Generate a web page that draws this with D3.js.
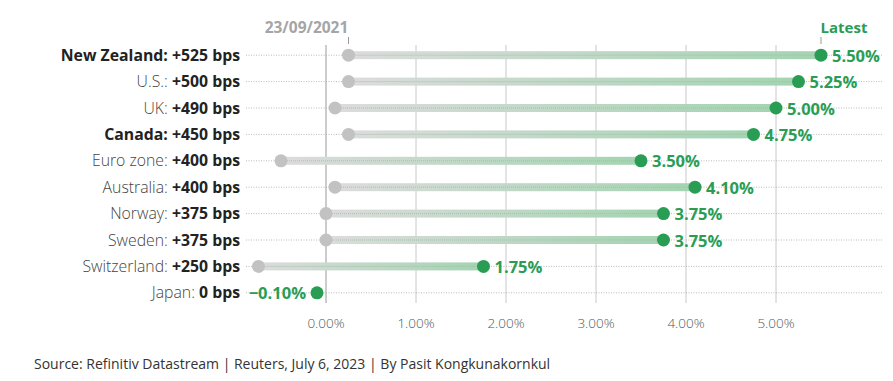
<!DOCTYPE html>
<html>
<head>
<meta charset="utf-8">
<script src="https://cdn.jsdelivr.net/npm/d3@7"></script>
<style>
  body { margin: 0; background: #fff; }
  svg { font-family: "Open Sans", Lato, sans-serif; }
</style>
</head>
<body>
<script>
const countries = ["New Zealand", "U.S.", "UK", "Canada", "Euro zone", "Australia", "Norway", "Sweden", "Switzerland", "Japan"];
const startRates = [0.25, 0.25, 0.10, 0.25, -0.50, 0.10, 0.00, 0.00, -0.75, -0.10];
const latestRates = [5.50, 5.25, 5.00, 4.75, 3.50, 4.10, 3.75, 3.75, 1.75, -0.10];
const changeBps = [525, 500, 490, 450, 400, 400, 375, 375, 250, 0];
const boldNames = ["New Zealand", "Canada"];
const xTicks = [0, 1, 2, 3, 4, 5];

const width = 893, height = 381;
const green = "#2a9d55", grey = "#c2c2c2";

const svg = d3.select("body").append("svg")
    .attr("width", width)
    .attr("height", height);

const x = d3.scaleLinear().domain([0, 5]).range([326, 776]);
const y = d3.scaleBand().domain(countries).range([42, 306]);
const cy = d => y(d) + y.bandwidth() / 2;

// gradient for bars
const grad = svg.append("defs").append("linearGradient")
    .attr("id", "barGrad").attr("x1", "0%").attr("x2", "100%");
grad.append("stop").attr("offset", "0%").attr("stop-color", "#dcdcdc");
grad.append("stop").attr("offset", "100%").attr("stop-color", "#a3d4b1");

// vertical gridlines
svg.append("g").selectAll("line")
    .data(xTicks)
    .enter().append("line")
    .attr("x1", d => x(d)).attr("x2", d => x(d))
    .attr("y1", 45).attr("y2", 303)
    .style("stroke", d => d === 0 ? "#999" : "#c8c8c8")
    .style("stroke-width", 1);

// axis tick labels
svg.append("g").selectAll("text")
    .data(xTicks)
    .enter().append("text")
    .attr("x", d => x(d)).attr("y", 328)
    .attr("text-anchor", "middle")
    .style("font-size", "13.5px").style("font-weight", 300)
    .style("fill", "#555")
    .text(d => d3.format(".2f")(d) + "%");

const data = countries.map((c, i) => ({
    name: c, start: startRates[i], latest: latestRates[i], bps: changeBps[i]
}));

// dotted row lines
svg.append("g").selectAll("line")
    .data(data)
    .enter().append("line")
    .attr("x1", 246).attr("x2", 882)
    .attr("y1", d => cy(d.name)).attr("y2", d => cy(d.name))
    .style("stroke", "#aaa").style("stroke-width", 0.8)
    .style("stroke-dasharray", "1,1.5");

// bars
svg.append("g").selectAll("rect")
    .data(data.filter(d => d.latest !== d.start))
    .enter().append("rect")
    .attr("x", d => x(d.start))
    .attr("y", d => cy(d.name) - 4)
    .attr("width", d => x(d.latest) - x(d.start))
    .attr("height", 8)
    .style("fill", "url(#barGrad)");

// dotted line over the bars
svg.append("g").selectAll("line")
    .data(data.filter(d => d.latest !== d.start))
    .enter().append("line")
    .attr("x1", d => x(d.start)).attr("x2", d => x(d.latest))
    .attr("y1", d => cy(d.name)).attr("y2", d => cy(d.name))
    .style("stroke", "#9fb9a6").style("stroke-width", 0.8)
    .style("stroke-dasharray", "1,1");

// start dots
svg.append("g").selectAll("circle")
    .data(data.filter(d => d.latest !== d.start))
    .enter().append("circle")
    .attr("cx", d => x(d.start)).attr("cy", d => cy(d.name))
    .attr("r", 6.5).style("fill", grey);

// latest dots
svg.append("g").selectAll("circle")
    .data(data)
    .enter().append("circle")
    .attr("cx", d => x(d.latest)).attr("cy", d => cy(d.name))
    .attr("r", 6.5).style("fill", green);

// value labels
svg.append("g").selectAll("text")
    .data(data)
    .enter().append("text")
    .attr("x", d => d.latest < 0 ? x(d.latest) - 11 : x(d.latest) + 11)
    .attr("y", d => cy(d.name)).attr("dy", "0.4em")
    .attr("text-anchor", d => d.latest < 0 ? "end" : "start")
    .style("font-size", "16.5px").style("font-weight", 700)
    .style("fill", green)
    .text(d => (d.latest < 0 ? "\u2212" : "") + d3.format(".2f")(Math.abs(d.latest)) + "%");

// country labels
const lab = svg.append("g").selectAll("text")
    .data(data)
    .enter().append("text")
    .attr("x", 240).attr("y", d => cy(d.name)).attr("dy", "0.36em")
    .attr("text-anchor", "end")
    .style("font-size", "15.8px")
    .style("fill", "#222");
lab.append("tspan")
    .style("font-weight", d => boldNames.includes(d.name) ? 700 : 300)
    .style("fill", d => boldNames.includes(d.name) ? "#222" : "#444")
    .text(d => d.name + ": ");
lab.append("tspan")
    .style("font-weight", 700)
    .text(d => (d.bps > 0 ? "+" : "") + d.bps + " bps");

// column headers
const first = data[0];
svg.append("line")
    .attr("x1", x(first.start)).attr("x2", x(first.start))
    .attr("y1", 37).attr("y2", 44)
    .style("stroke", "#999");
svg.append("text")
    .attr("x", x(first.start) - 42).attr("y", 33)
    .attr("text-anchor", "middle")
    .style("font-size", "15.5px").style("font-weight", 700)
    .style("fill", "#a5a5a5")
    .text("23/09/2021");
svg.append("line")
    .attr("x1", x(first.latest)).attr("x2", x(first.latest))
    .attr("y1", 37).attr("y2", 44)
    .style("stroke", "#999");
svg.append("text")
    .attr("x", x(first.latest) + 23).attr("y", 33)
    .attr("text-anchor", "middle")
    .style("font-size", "15px").style("font-weight", 700)
    .style("fill", green)
    .text("Latest");

// source
svg.append("text")
    .attr("x", 34).attr("y", 369)
    .style("font-size", "14px").style("font-weight", 400)
    .style("fill", "#333")
    .text("Source: Refinitiv Datastream | Reuters, July 6, 2023 | By Pasit Kongkunakornkul");
</script>
</body>
</html>
